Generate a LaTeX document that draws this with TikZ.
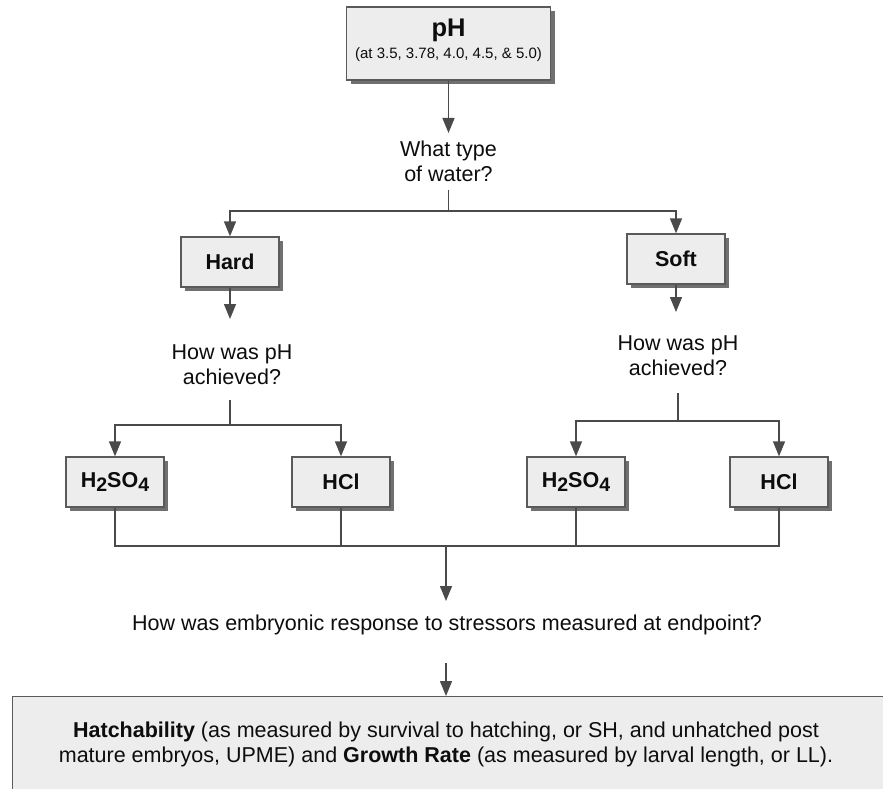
\documentclass[tikz,border=0pt]{standalone}
\usepackage{fontspec}
\setmainfont{Liberation Sans}
\usetikzlibrary{arrows.meta,shadows}
\definecolor{boxfill}{HTML}{EDEDED}
\definecolor{boxborder}{HTML}{5A5A5A}
\definecolor{shadowgray}{HTML}{707070}
\definecolor{linegray}{HTML}{4A4A4A}
\definecolor{textcol}{HTML}{0D0D0D}
\begin{document}
\begin{tikzpicture}[x=1pt,y=-1pt,
  box/.style={draw=boxborder, line width=1.3pt, fill=boxfill, inner sep=0pt,
    text=textcol, font=\fontsize{21.5}{25}\selectfont\bfseries, align=center,
    drop shadow={shadow xshift=4pt, shadow yshift=-4pt, fill=shadowgray, opacity=1}},
  smallbox/.style={box, minimum width=98pt, minimum height=50pt},
  qtext/.style={inner sep=0pt, text=textcol, align=center, font=\fontsize{21.5}{25}\selectfont},
  conn/.style={draw=linegray, line width=1.4pt},
  arr/.style={conn, -{Triangle[length=15pt,width=12pt]}}
]
\clip (0,0) rectangle (883,789);
\fill[white] (0,0) rectangle (883,789);

% top box
\node[box, minimum width=204pt, minimum height=73pt] (ph) at (448.5,43.5) {};
\node[inner sep=0pt, text=textcol, font=\fontsize{25.5}{25}\selectfont\bfseries, anchor=base] (phT) at (448.5,36.5) {pH};
\node[inner sep=0pt, text=textcol, font=\fontsize{15}{15}\selectfont, anchor=base] (phS) at (448.5,59) {(at 3.5, 3.78, 4.0, 4.5, \& 5.0)};

% question 1
\node[qtext] (q1) at (448.5,161.5) {What type\\of water?};
\coordinate (q1in) at (448.5,133);
\coordinate (q1out) at (448.5,190);
\coordinate (j1) at (448.5,211);

% water boxes
\node[smallbox] (hard) at (230,262) {Hard};
\node[smallbox] (soft) at (676,259) {Soft};

% question 2 and 3
\node[qtext] (q2) at (232,365) {How was pH\\achieved?};
\coordinate (q2in) at (230,319);
\coordinate (q2out) at (230,400);
\coordinate (j2) at (230,425);

\node[qtext] (q3) at (678,355.5) {How was pH\\achieved?};
\coordinate (q3in) at (676,312);
\coordinate (q3out) at (678,393);
\coordinate (j3) at (678,421);

% acid boxes
\newcommand{\hso}{H\raisebox{-3.5pt}{\fontsize{19.5}{19.5}\selectfont 2}SO\raisebox{-3.5pt}{\fontsize{19.5}{19.5}\selectfont 4}}
\node[smallbox] (h2l) at (115,482) {\hso};
\node[smallbox] (hcll) at (341,482) {HCl};
\node[smallbox] (h2r) at (576,482) {\hso};
\node[smallbox] (hclr) at (779,482) {HCl};

% question 4
\coordinate (j4) at (446,546);
\coordinate (q4in) at (446,601);
\node[qtext] (q4) at (447,625) {How was embryonic response to stressors measured at endpoint?};
\coordinate (q4out) at (446,663);

% result box
\node[draw=boxborder, line width=1.3pt, fill=boxfill, inner sep=0pt, minimum width=900pt, minimum height=120pt, anchor=north west] (res) at (12,696) {};
\node[qtext] (rest) at (446,744.5) {\textbf{Hatchability} (as measured by survival to hatching, or SH, and unhatched post\\mature embryos, UPME) and \textbf{Growth Rate} (as measured by larval length, or LL).};

% connectors
\draw[arr] (ph.south) -- (q1in);
\draw[conn] (q1out) -- (j1);
\draw[arr] (j1) -| (hard.north);
\draw[arr] (j1) -| (soft.north);

\draw[arr] (hard.south) -- (q2in);
\draw[conn] (q2out) -- (j2);
\draw[arr] (j2) -| (h2l.north);
\draw[arr] (j2) -| (hcll.north);

\draw[arr] (soft.south) -- (q3in);
\draw[conn] (q3out) -- (j3);
\draw[arr] (j3) -| (h2r.north);
\draw[arr] (j3) -| (hclr.north);

\draw[conn] (h2l.south) |- (j4) -| (hclr.south);
\draw[conn] (hcll.south) -- (hcll.south |- j4);
\draw[conn] (h2r.south) -- (h2r.south |- j4);

\draw[arr] (j4) -- (q4in);
\draw[arr] (q4out) -- (q4out |- res.north);
\end{tikzpicture}
\end{document}
